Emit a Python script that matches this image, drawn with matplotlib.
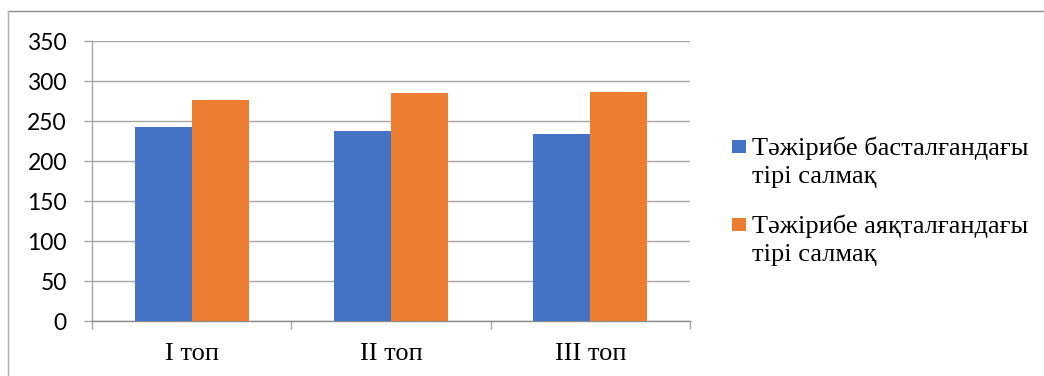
#!/usr/bin/env python3
"""Live weight of the three groups at the start and end of the trial."""

import matplotlib.pyplot as plt
from matplotlib.lines import Line2D
from matplotlib.patches import Rectangle
import numpy as np

groups = ["I топ", "II топ", "III топ"]
series_names = [
    "Тәжірибе басталғандағы\nтірі салмақ",
    "Тәжірибе аяқталғандағы\nтірі салмақ",
]
start_weight = [242.5, 237.5, 233.5]
end_weight = [276, 285.5, 286.5]
y_ticks = [0, 50, 100, 150, 200, 250, 300, 350]

colors = ["#4472C4", "#ED7D31"]
grid_color = "#A6A6A6"
serif = ["Liberation Serif", "DejaVu Serif"]


def main() -> int:
    fig = plt.figure(figsize=(10.44, 3.76), dpi=100)
    ax = fig.add_axes([92 / 1044, 55 / 376, 598 / 1044, 280 / 376])

    x = np.arange(len(groups))
    width = 0.286
    for offset, values, color in zip((-width / 2, width / 2),
                                     (start_weight, end_weight), colors):
        ax.bar(x + offset, values, width=width, color=color,
               edgecolor="none", zorder=3)

    ax.set_xlim(-0.5, len(groups) - 0.5)
    ax.set_ylim(0, 350)
    ax.set_yticks(y_ticks)
    ax.grid(axis="y", color=grid_color, linewidth=1.0, zorder=0)

    ax.set_xticks(x)
    ax.set_xticklabels(groups, fontfamily=serif, fontsize=19)
    ax.set_xticks(np.arange(len(groups) + 1) - 0.5, minor=True)
    ax.tick_params(axis="x", which="major", length=0, pad=16)
    ax.tick_params(axis="x", which="minor", length=6, color=grid_color,
                   width=1.0)
    ax.tick_params(axis="y", length=6, color=grid_color, width=1.0, pad=12,
                   labelsize=16.5)
    for label in ax.get_yticklabels():
        label.set_fontfamily(["Lato", "DejaVu Sans"])

    for side in ("top", "right"):
        ax.spines[side].set_visible(False)
    ax.spines["left"].set_color(grid_color)
    ax.spines["bottom"].set_color("#8C8C8C")
    ax.spines["left"].set_linewidth(1.0)
    ax.spines["bottom"].set_linewidth(1.0)

    # chart frame: top and left edges only
    fig.add_artist(Line2D([8 / 1044, 1.0], [1 - 11 / 376] * 2,
                          transform=fig.transFigure, color="#8C8C8C",
                          linewidth=1.0))
    fig.add_artist(Line2D([8 / 1044] * 2, [0.0, 1 - 11 / 376],
                          transform=fig.transFigure, color="#B0B0B0",
                          linewidth=1.0))

    # legend: square marker beside the first line of each entry
    for top, name, color in zip((140, 218), series_names, colors):
        fig.add_artist(Rectangle((732 / 1044, 1 - (top + 13) / 376),
                                 14 / 1044, 13 / 376,
                                 transform=fig.transFigure,
                                 facecolor=color, edgecolor="none"))
        fig.text(752 / 1044, 1 - (top - 4) / 376, name, ha="left", va="top",
                 fontfamily=serif, fontsize=19, linespacing=1.38)

    fig.savefig("out.png", dpi=100)
    return 0


if __name__ == "__main__":
    raise SystemExit(main())
